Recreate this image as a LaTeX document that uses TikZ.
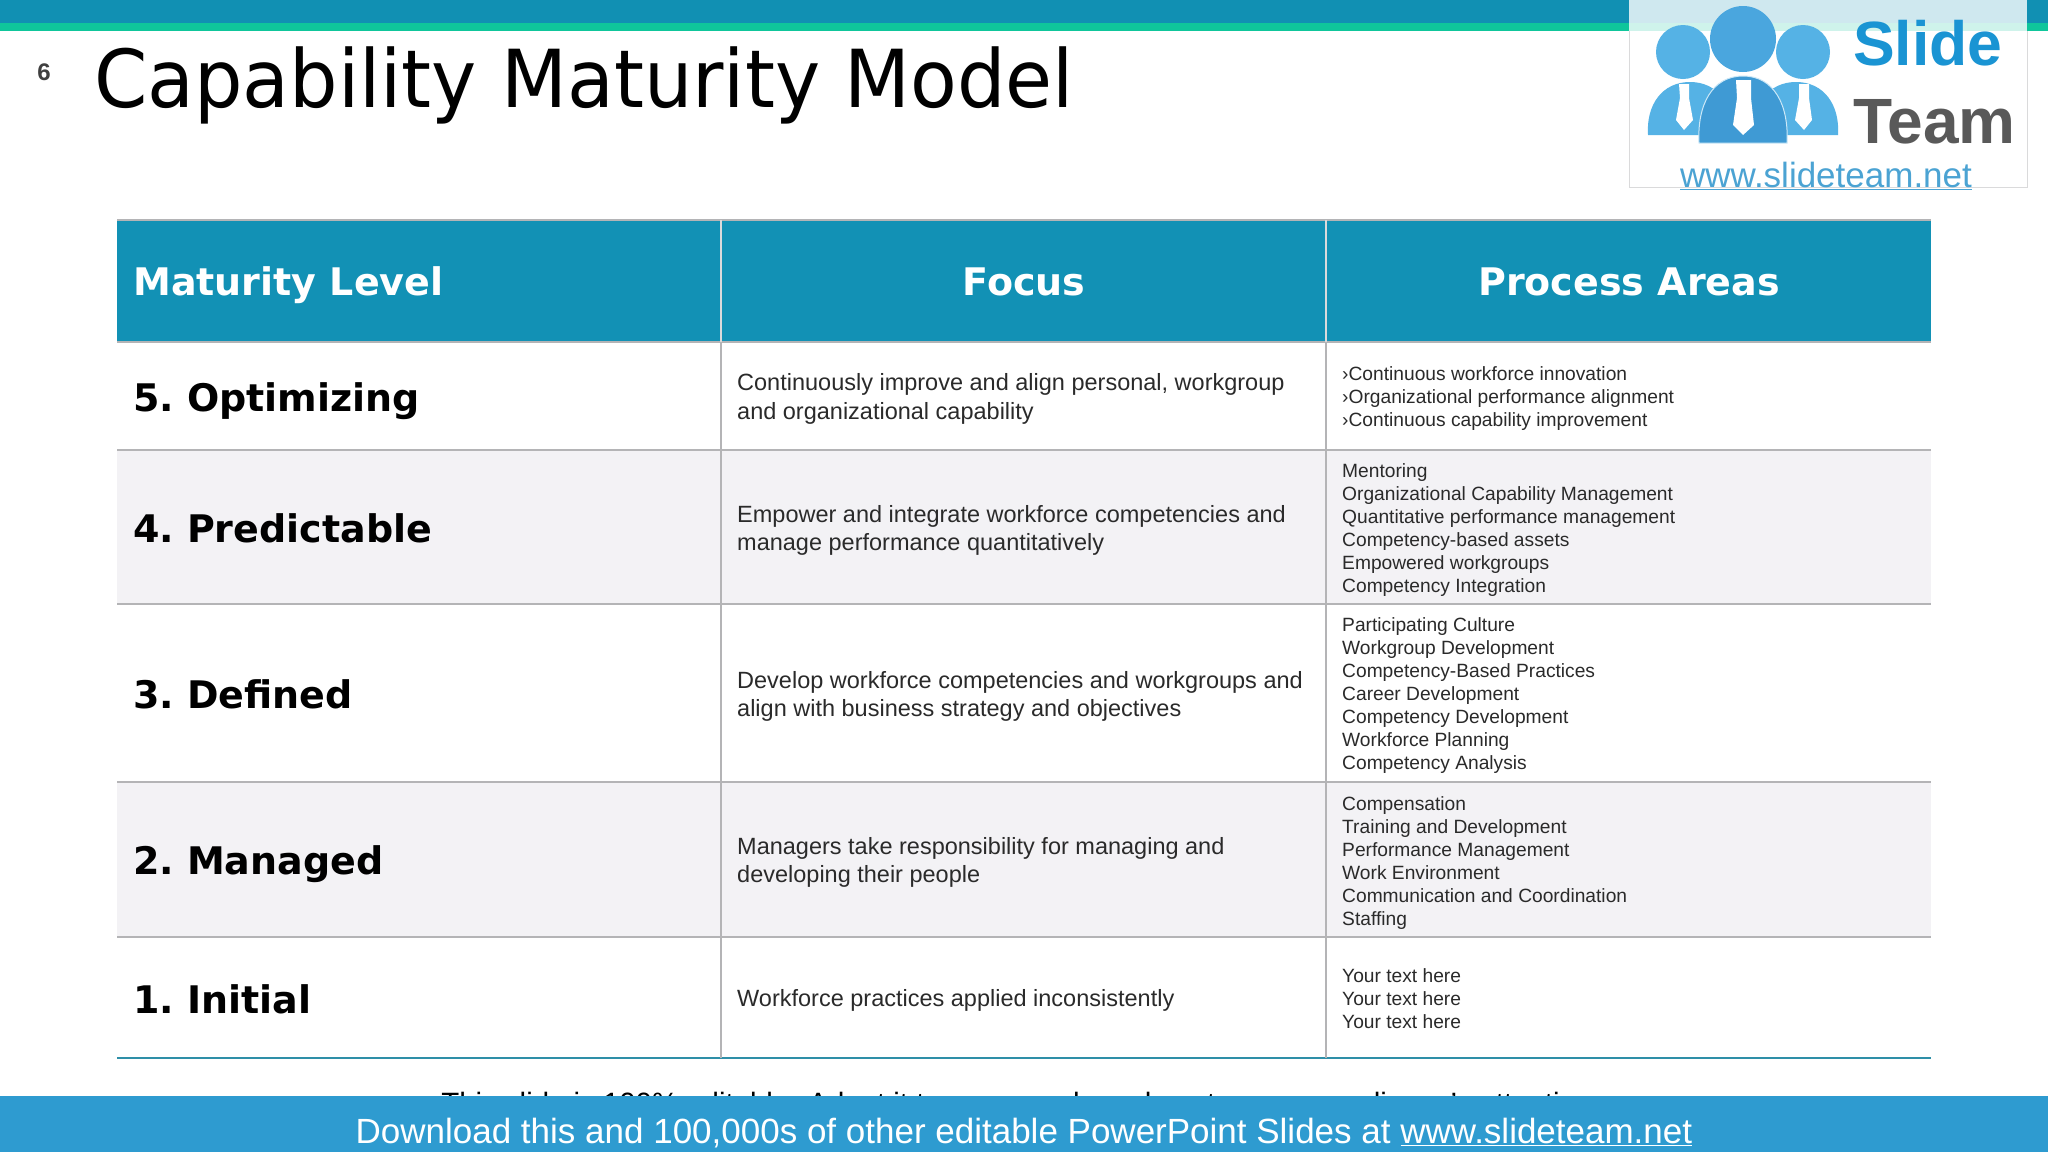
\documentclass[tikz,border=0pt]{standalone}
\usepackage{fontspec}
\setmainfont{Liberation Sans}
\newfontfamily\dejavu{DejaVu Sans}
\newfontfamily\dejatitle[FakeStretch=0.955]{DejaVu Sans}
\usetikzlibrary{calc}
\definecolor{hdr}{HTML}{1291B5}
\definecolor{topbar}{HTML}{1190B3}
\definecolor{green}{HTML}{0FC69B}
\definecolor{rowalt}{HTML}{F3F2F5}
\definecolor{gridl}{HTML}{B4B4B6}
\definecolor{botbar}{HTML}{2E9BD0}
\definecolor{teal}{HTML}{2E8FA8}
\definecolor{lblue}{HTML}{55B2E5}
\definecolor{mblue}{HTML}{4AA6DE}
\definecolor{dblue}{HTML}{3F9AD4}
\definecolor{slidec}{HTML}{1A94D3}
\definecolor{urlc}{HTML}{4BA3D3}
\definecolor{txt}{HTML}{2A2A2A}
\tikzset{
  x=1pt,y=-1pt,
  lvl/.style={anchor=base west,font=\dejavu\bfseries\fontsize{38}{38}\selectfont,text=black,inner sep=0},
  hd/.style={anchor=base,font=\dejavu\bfseries\fontsize{38}{38}\selectfont,text=white,inner sep=0},
  foc/.style={anchor=west,align=left,font=\fontsize{23.5}{28.5}\selectfont,text=txt,inner sep=0},
  proc/.style={anchor=west,align=left,font=\fontsize{19.2}{23}\selectfont,text=txt,inner sep=0},
  gline/.style={draw=gridl,line width=2pt},
  tie/.style={fill=white}
}
\begin{document}
\begin{tikzpicture}
\useasboundingbox (0,0) rectangle (2048,1152);
\fill[white] (0,0) rectangle (2048,1152);
% top bar
\fill[topbar] (0,0) rectangle (2048,23);
\fill[green] (0,23) rectangle (2048,31);
% title
\node[anchor=center,font=\bfseries\fontsize{24}{24}\selectfont,text=txt!90,inner sep=0] (num) at (44,72) {6};
\node[anchor=base west,font=\dejatitle\fontsize{80}{80}\selectfont,text=black,inner sep=0] (title) at (94,107) {Capability Maturity Model};
% table fills
\fill[hdr] (117,220) rectangle (1931,342);
\fill[rowalt] (117,450) rectangle (1931,604);
\fill[rowalt] (117,782) rectangle (1931,937);
% horizontal lines
\draw[gline] (117,220) -- (1931,220);
\foreach \y in {342,450,604,782,937} \draw[gline] (117,\y) -- (1931,\y);
\draw[teal,line width=2.5pt] (117,1058) -- (1931,1058);
% vertical lines
\draw[gridl!50!white,line width=2pt] (721,220) -- (721,342);
\draw[gridl!50!white,line width=2pt] (1326,220) -- (1326,342);
\draw[gline] (721,342) -- (721,1058);
\draw[gline] (1326,342) -- (1326,1058);
% header
\node[hd,anchor=base west] (h1) at (133,295.5) {Maturity Level};
\node[hd] (h2) at (1024,295.5) {Focus};
\node[hd] (h3) at (1629,295.5) {Process Areas};
% levels
\node[lvl] (l5) at (133,411) {5.\hspace{13pt}Optimizing};
\node[lvl] (l4) at (133,542) {4.\hspace{13pt}Predictable};
\node[lvl] (l3) at (133,708) {3.\hspace{13pt}Defined};
\node[lvl] (l2) at (133,874) {2.\hspace{13pt}Managed};
\node[lvl] (l1) at (133,1013) {1.\hspace{13pt}Initial};
% focus
\node[foc] (f5) at (737,399) {Continuously improve and align personal, workgroup\\and organizational capability};
\node[foc] (f4) at (737,530.5) {Empower and integrate workforce competencies and\\manage performance quantitatively};
\node[foc] (f3) at (737,696.5) {Develop workforce competencies and workgroups and\\align with business strategy and objectives};
\node[foc] (f2) at (737,862.5) {Managers take responsibility for managing and\\developing their people};
\node[foc] (f1) at (737,1000) {Workforce practices applied inconsistently};
% process
\node[proc] (p5) at (1342,398.5) {›Continuous workforce innovation\\›Organizational performance alignment\\›Continuous capability improvement};
\node[proc] (p4) at (1342,530) {Mentoring\\Organizational Capability Management\\Quantitative performance management\\Competency-based assets\\Empowered workgroups\\Competency Integration};
\node[proc] (p3) at (1342,695.5) {Participating Culture\\Workgroup Development\\Competency-Based Practices\\Career Development\\Competency Development\\Workforce Planning\\Competency Analysis};
\node[proc] (p2) at (1342,863) {Compensation\\Training and Development\\Performance Management\\Work Environment\\Communication and Coordination\\Staffing};
\node[proc] (p1) at (1342,999) {Your text here\\Your text here\\Your text here};
% hidden caption and bottom bar
\node[anchor=base,font=\fontsize{29.4}{30}\selectfont,text=black,inner sep=0] (cap) at (1021,1113) {This slide is 100\% editable. Adapt it to your needs and capture your audience's attention.};
\fill[botbar] (0,1096) rectangle (2048,1152);
\node[anchor=base,font=\fontsize{35}{35}\selectfont,text=white,inner sep=0] (dl) at (1024,1143) {Download this and 100,000s of other editable PowerPoint Slides at \underline{www.slideteam.net}};
% logo
\fill[white,opacity=.8] (1629,0) rectangle (2027,187);
\draw[gridl!50,line width=.8pt] (1629,31) -- (1629,187) -- (2027,187) -- (2027,31);
\fill[lblue] (1683,52) circle (27);
\fill[lblue] (1803,52) circle (27);
\fill[mblue] (1743,39) circle (33);
\fill[lblue] (1648,135) .. controls (1646,105) and (1662,82) .. (1690,82) .. controls (1718,82) and (1734,105) .. (1732,135) -- cycle;
\fill[lblue] (1838,135) .. controls (1840,105) and (1824,82) .. (1796,82) .. controls (1768,82) and (1752,105) .. (1754,135) -- cycle;
\draw[white!70!lblue,line width=1pt,fill=dblue] (1699,143) .. controls (1697,105) and (1712,76) .. (1743,76) .. controls (1774,76) and (1789,105) .. (1787,143) -- cycle;
\fill[tie] (1679,84) -- (1689,84) -- (1689,98) -- (1693,120) -- (1684,130) -- (1676,120) -- (1680,98) -- cycle;
\fill[tie] (1799,84) -- (1809,84) -- (1809,98) -- (1812,120) -- (1804,130) -- (1795,120) -- (1799,98) -- cycle;
\fill[tie] (1736,80) -- (1751,80) -- (1751,98) -- (1754,125) -- (1743,135) -- (1733,125) -- (1737,98) -- cycle;
\node[anchor=base west,font=\bfseries\fontsize{62.5}{62}\selectfont,text=slidec,inner sep=0] (slide) at (1853,65) {Slide};
\node[anchor=base west,font=\bfseries\fontsize{64}{64}\selectfont,text=black!65,inner sep=0] (team) at (1853,143) {Team};
\node[anchor=base,font=\fontsize{35}{35}\selectfont,text=urlc,inner sep=0] (url) at (1826,187) {\underline{www.slideteam.net}};
\end{tikzpicture}
\end{document}
